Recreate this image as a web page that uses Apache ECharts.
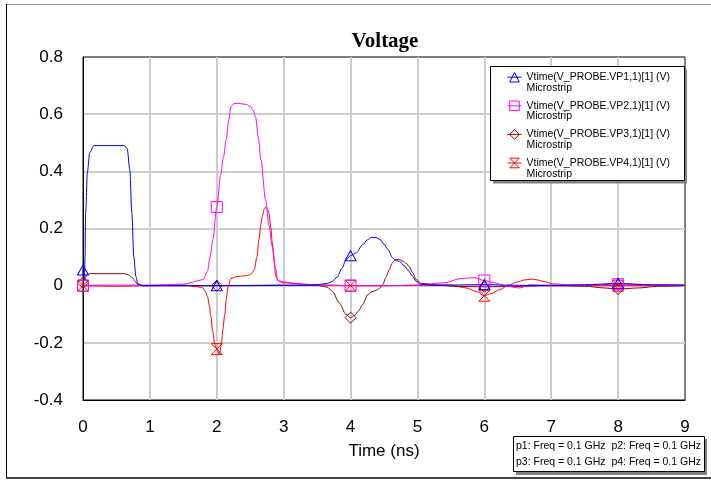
<!DOCTYPE html>
<html>
<head>
<meta charset="utf-8">
<script src="https://cdn.jsdelivr.net/npm/echarts@6/dist/echarts.min.js"></script>
<style>html,body{margin:0;padding:0;background:#fff}#chart{width:711px;height:480px}</style>
</head>
<body>
<div id="chart"></div>
<script>
const seriesNames = ['Vtime(V_PROBE.VP1,1)[1] (V)', 'Vtime(V_PROBE.VP2,1)[1] (V)', 'Vtime(V_PROBE.VP3,1)[1] (V)', 'Vtime(V_PROBE.VP4,1)[1] (V)'];
const subLabel = 'Microstrip';
const markerTimes = [0, 2, 4, 6, 8];
const xTicks = [0, 1, 2, 3, 4, 5, 6, 7, 8, 9];
const yTicks = [-0.4, -0.2, 0, 0.2, 0.4, 0.6, 0.8];
const infoLines = ['p1: Freq = 0.1 GHz  p2: Freq = 0.1 GHz', 'p3: Freq = 0.1 GHz  p4: Freq = 0.1 GHz'];

const vp1T = [0, 0.02, 0.03, 0.04, 0.065, 0.1, 0.16, 0.62, 0.66, 0.7, 0.73, 0.76, 0.79, 0.82, 0.88, 1.5, 2, 2.5, 3, 3.4, 3.53, 3.65, 3.73, 3.8, 3.87, 3.93, 4, 4.08, 4.18, 4.25, 4.31, 4.38, 4.44, 4.5, 4.56, 4.63, 4.68, 4.73, 4.8, 4.86, 4.92, 4.98, 5.05, 5.2, 5.5, 5.8, 6, 6.3, 6.6, 7, 7.5, 8, 8.5, 9];
const vp1V = [0.055, 0.02, 0.1, 0.255, 0.395, 0.465, 0.49, 0.49, 0.48, 0.406, 0.255, 0.1, 0.033, 0.007, 0, 0, 0, 0, 0.001, 0.002, 0.004, 0.008, 0.015, 0.03, 0.06, 0.09, 0.105, 0.114, 0.143, 0.16, 0.169, 0.168, 0.162, 0.145, 0.126, 0.097, 0.088, 0.085, 0.07, 0.054, 0.035, 0.015, 0.005, 0.002, 0.002, 0.003, 0.004, 0.002, 0.001, 0, 0.003, 0.008, 0.003, 0.002];

const vp2T = [0, 0.3, 1, 1.5, 1.6, 1.72, 1.8, 1.86, 1.9, 1.94, 2, 2.06, 2.1, 2.14, 2.18, 2.21, 2.25, 2.32, 2.44, 2.5, 2.54, 2.58, 2.62, 2.66, 2.73, 2.78, 2.83, 2.88, 2.91, 2.98, 3.1, 3.3, 3.6, 4, 4.5, 5, 5.4, 5.65, 5.85, 6, 6.15, 6.33, 6.53, 6.68, 6.9, 7.5, 8, 8.5, 9];
const vp2V = [0, 0.002, 0.002, 0.005, 0.01, 0.017, 0.022, 0.05, 0.1, 0.16, 0.275, 0.39, 0.45, 0.51, 0.58, 0.625, 0.636, 0.638, 0.634, 0.627, 0.615, 0.59, 0.52, 0.44, 0.30, 0.21, 0.137, 0.06, 0.018, 0.014, 0.01, 0.005, 0.002, 0, 0, 0.002, 0.01, 0.025, 0.028, 0.018, 0.01, -0.002, -0.008, 0.003, 0.002, 0.002, 0.005, 0.003, 0.002];

const vp3T = [0, 0.02, 0.06, 0.1, 0.62, 0.68, 0.74, 0.78, 0.82, 0.9, 2, 3, 3.5, 3.65, 3.73, 3.83, 3.93, 4, 4.06, 4.12, 4.18, 4.26, 4.32, 4.38, 4.43, 4.48, 4.53, 4.58, 4.62, 4.66, 4.72, 4.78, 4.84, 4.88, 4.93, 4.98, 5.06, 5.3, 5.6, 6, 6.4, 7, 7.5, 7.8, 8, 8.3, 8.6, 9];
const vp3V = [0.01, 0.02, 0.038, 0.042, 0.042, 0.038, 0.027, 0.015, 0.004, 0, 0, 0.002, 0.001, -0.005, -0.02, -0.06, -0.1, -0.112, -0.104, -0.088, -0.066, -0.031, -0.021, -0.017, -0.01, 0.003, 0.03, 0.056, 0.078, 0.09, 0.092, 0.086, 0.077, 0.065, 0.045, 0.021, 0.008, 0.002, -0.003, -0.004, -0.003, 0, -0.002, -0.008, -0.012, -0.008, -0.002, 0];

const vp4T = [0, 0.5, 1, 1.5, 1.72, 1.79, 1.83, 1.86, 1.89, 1.91, 1.94, 1.97, 2, 2.04, 2.07, 2.09, 2.12, 2.14, 2.17, 2.21, 2.3, 2.4, 2.49, 2.53, 2.56, 2.6, 2.63, 2.66, 2.68, 2.71, 2.73, 2.76, 2.78, 2.81, 2.83, 2.86, 2.88, 2.93, 3, 3.3, 3.6, 4, 4.5, 5, 5.5, 5.73, 5.88, 6, 6.1, 6.23, 6.35, 6.48, 6.6, 6.7, 6.8, 6.88, 7.03, 7.3, 7.6, 8, 8.5, 9];
const vp4V = [0, -0.002, 0, 0.002, -0.004, -0.008, -0.02, -0.037, -0.07, -0.107, -0.16, -0.205, -0.222, -0.241, -0.2, -0.154, -0.1, -0.049, -0.005, 0.025, 0.032, 0.034, 0.038, 0.045, 0.056, 0.1, 0.161, 0.215, 0.242, 0.268, 0.275, 0.268, 0.254, 0.2, 0.149, 0.08, 0.033, 0.015, 0.01, 0.005, 0.002, 0, 0, 0.001, 0.002, -0.008, -0.02, -0.035, -0.028, -0.014, 0, 0.012, 0.02, 0.023, 0.02, 0.015, 0.006, 0.002, 0, 0, 0, 0];

const colors = ['#0000ff', '#ff00ff', '#990000', '#ff0000'];
const symbols = ['triangle', 'rect', 'diamond', 'path://M0,0L10,0L0,10L10,10Z'];
const times = [vp1T, vp2T, vp3T, vp4T];
const values = [vp1V, vp2V, vp3V, vp4V];

function buildData(T, V) {
  return T.map((t, i) => markerTimes.indexOf(t) >= 0 ? { value: [t, V[i]] } : { value: [t, V[i]], symbol: 'none' });
}

const series = [];
for (let k = 3; k >= 0; k--) {
  series.push({
    name: seriesNames[k],
    type: 'line',
    data: buildData(times[k], values[k]),
    symbol: symbols[k],
    symbolSize: k === 0 ? [11, 10] : 11,
    showSymbol: true,
    showAllSymbol: true,
    smooth: 0.3,
    smoothMonotone: 'x',
    lineStyle: { color: colors[k], width: 1 },
    itemStyle: { color: 'rgba(0,0,0,0)', borderColor: colors[k], borderWidth: 1 },
    emphasis: { disabled: true },
    animation: false
  });
}

const chart = echarts.init(document.getElementById('chart'), null, { renderer: 'canvas' });
chart.setOption({
  animation: false,
  backgroundColor: '#fff',
  title: {
    text: 'Voltage',
    left: 380,
    textAlign: 'center',
    top: 26,
    textStyle: { fontFamily: 'Liberation Serif', fontWeight: 'bold', fontSize: 21, color: '#000' }
  },
  grid: { left: 83, top: 57, right: 26, bottom: 80, show: true, borderColor: '#000', borderWidth: 1, backgroundColor: 'transparent' },
  xAxis: {
    type: 'value', min: xTicks[0], max: xTicks[xTicks.length - 1], interval: 1,
    name: 'Time (ns)', nameLocation: 'middle', nameGap: 43,
    nameTextStyle: { fontFamily: 'Liberation Sans', fontSize: 17, color: '#000' },
    axisLine: { show: true, onZero: false, lineStyle: { color: '#000', width: 1 } },
    axisTick: { show: false },
    axisLabel: { fontFamily: 'Liberation Sans', fontSize: 17, color: '#000', margin: 19 },
    splitLine: { show: true, showMinLine: false, showMaxLine: false, lineStyle: { color: '#cccccc', width: 2 } }
  },
  yAxis: {
    type: 'value', min: yTicks[0], max: yTicks[yTicks.length - 1], interval: 0.2,
    axisLine: { show: true, onZero: false, lineStyle: { color: '#000', width: 1 } },
    axisTick: { show: false },
    axisLabel: { fontFamily: 'Liberation Sans', fontSize: 17, color: '#000', margin: 20 },
    splitLine: { show: true, showMinLine: false, showMaxLine: false, lineStyle: { color: '#cccccc', width: 2 } }
  },
  legend: {
    orient: 'vertical',
    left: 507,
    top: 61,
    padding: 0,
    itemGap: -3.8,
    itemWidth: 14,
    itemHeight: 12,
    selectedMode: false,
    data: seriesNames.map((n, k) => ({
      name: n,
      itemStyle: { color: 'rgba(0,0,0,0)', borderColor: colors[k], borderWidth: 1 },
      lineStyle: { color: colors[k], width: 1 }
    })),
    formatter: name => ' \n' + name + '\n' + subLabel,
    textStyle: { fontFamily: 'Liberation Sans', fontSize: 10.5, lineHeight: 10.7, color: '#000' }
  },
  graphic: [
    { type: 'line', shape: { x1: 6, y1: 4.5, x2: 711, y2: 4.5 }, style: { stroke: '#999', lineWidth: 1 }, z: 10 },
    { type: 'line', shape: { x1: 6.5, y1: 4, x2: 6.5, y2: 478 }, style: { stroke: '#000', lineWidth: 1 }, z: 10 },
    { type: 'line', shape: { x1: 6, y1: 478, x2: 711, y2: 478 }, style: { stroke: '#444', lineWidth: 2 }, z: 10 },
    { type: 'rect', shape: { x: 493, y: 69.5, width: 194, height: 114 }, style: { fill: '#808080' }, z: 3 },
    { type: 'rect', shape: { x: 490.5, y: 66.5, width: 194, height: 114 }, style: { fill: '#fff', stroke: '#000', lineWidth: 1 }, z: 3 },
    { type: 'rect', shape: { x: 516, y: 439, width: 191, height: 36 }, style: { fill: '#808080' }, z: 11 },
    { type: 'rect', shape: { x: 513.5, y: 436.5, width: 191, height: 35 }, style: { fill: '#fff', stroke: '#000', lineWidth: 1 }, z: 11 },
    { type: 'text', x: 516, y: 446, style: { text: infoLines[0], fontFamily: 'Liberation Sans', fontSize: 10.5, fill: '#000', verticalAlign: 'middle' }, z: 12 },
    { type: 'text', x: 516, y: 462, style: { text: infoLines[1], fontFamily: 'Liberation Sans', fontSize: 10.5, fill: '#000', verticalAlign: 'middle' }, z: 12 }
  ],
  series: series
});
</script>
</body>
</html>
